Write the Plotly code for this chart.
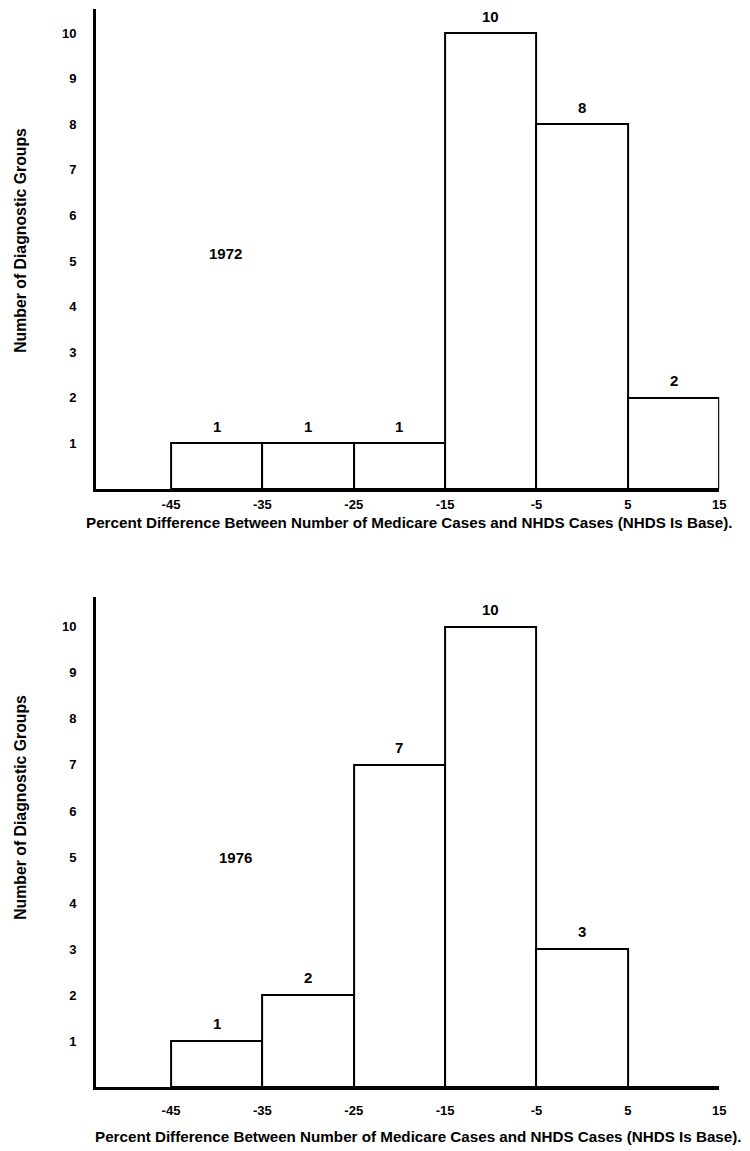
import plotly.graph_objects as go

# ---- data ----
bin_edges = [-45, -35, -25, -15, -5, 5, 15]
x_tick_vals = [-45, -35, -25, -15, -5, 5, 15]
x_tick_text = ["-45", "-35", "-25", "-15", "-5", "5", "15"]
y_tick_vals = [1, 2, 3, 4, 5, 6, 7, 8, 9, 10]
counts_1972 = [1, 1, 1, 10, 8, 2]
counts_1976 = [1, 2, 7, 10, 3, 0]
panel_years = ["1972", "1976"]
x_title = "Percent Difference Between Number of Medicare Cases and NHDS Cases (NHDS Is Base)."
y_title = "Number of Diagnostic Groups"

centers = [(a + b) / 2 for a, b in zip(bin_edges[:-1], bin_edges[1:])]
widths = [b - a for a, b in zip(bin_edges[:-1], bin_edges[1:])]

FONT = "Liberation Sans, Arial, Helvetica, sans-serif"
W, H = 750, 1151


def px(X):
    return X / W


def py(Y):
    return 1 - Y / H


fig = go.Figure()

panels = [
    dict(counts=counts_1972, xa="x", ya="y", year=panel_years[0],
         ydom=(py(489), py(9)), yrange=[0, 10.53],
         year_pos=(-39.0, 5.17), ytitle_y=py(240), xtitle_y=py(522), xtitle_x=px(413),
         standoff=1),
    dict(counts=counts_1976, xa="x2", ya="y2", year=panel_years[1],
         ydom=(py(1087), py(597)), yrange=[0, 10.65],
         year_pos=(-37.9, 4.98), ytitle_y=py(807), xtitle_y=py(1136), xtitle_x=px(422),
         standoff=9),
]

annotations = []
for i, p in enumerate(panels):
    fig.add_trace(go.Bar(
        x=centers, y=p["counts"], width=widths,
        marker=dict(color="white", line=dict(color="black", width=2)),
        xaxis=p["xa"], yaxis=p["ya"], showlegend=False, hoverinfo="x+y",
    ))
    for cx, c in zip(centers, p["counts"]):
        if c > 0:
            annotations.append(dict(
                x=cx, y=c, xref=p["xa"], yref=p["ya"], text=str(c),
                showarrow=False, yshift=17, yanchor="middle",
                font=dict(family=FONT, size=15, color="black", weight="bold"),
            ))
    annotations.append(dict(
        x=p["year_pos"][0], y=p["year_pos"][1], xref=p["xa"], yref=p["ya"],
        text=p["year"], showarrow=False, yanchor="middle",
        font=dict(family=FONT, size=15, color="black", weight="bold"),
    ))
    annotations.append(dict(
        x=px(20), y=p["ytitle_y"], xref="paper", yref="paper", text=y_title,
        textangle=-90, showarrow=False, xanchor="center", yanchor="middle",
        font=dict(family=FONT, size=15.8, color="black", weight="bold"),
    ))
    annotations.append(dict(
        x=p["xtitle_x"], y=p["xtitle_y"], xref="paper", yref="paper", text=x_title,
        showarrow=False, xanchor="center", yanchor="middle",
        font=dict(family=FONT, size=15.2, color="black", weight="bold"),
    ))


def xaxis_cfg(anchor, standoff):
    return dict(
        range=[-53.2, 15.0], domain=[px(97), px(726)], anchor=anchor,
        tickvals=x_tick_vals, ticktext=x_tick_text, ticks="",
        showline=True, linecolor="black", linewidth=3, mirror=False,
        showgrid=False, zeroline=False, ticklabelstandoff=standoff,
        tickfont=dict(family=FONT, size=13, color="black", weight="bold"),
        fixedrange=True,
    )


def yaxis_cfg(anchor, dom, rng):
    return dict(
        domain=list(dom), range=rng, anchor=anchor,
        tickvals=y_tick_vals, ticks="",
        showline=True, linecolor="black", linewidth=3,
        showgrid=False, zeroline=False, ticklabelstandoff=14,
        tickfont=dict(family=FONT, size=13, color="black", weight="bold"),
        fixedrange=True,
    )


fig.update_layout(
    width=W, height=H,
    margin=dict(l=0, r=0, t=0, b=0),
    paper_bgcolor="white", plot_bgcolor="white",
    bargap=0,
    xaxis=xaxis_cfg("y", panels[0]["standoff"]),
    yaxis=yaxis_cfg("x", panels[0]["ydom"], panels[0]["yrange"]),
    xaxis2=xaxis_cfg("y2", panels[1]["standoff"]),
    yaxis2=yaxis_cfg("x2", panels[1]["ydom"], panels[1]["yrange"]),
    annotations=annotations,
    font=dict(family=FONT, color="black"),
)

# remove the default 8px page margin so the figure fills the window exactly
fig.write_html(
    "out.html",
    config={"displayModeBar": False},
    post_script="document.body.style.margin='0';document.body.style.overflow='hidden';",
)
